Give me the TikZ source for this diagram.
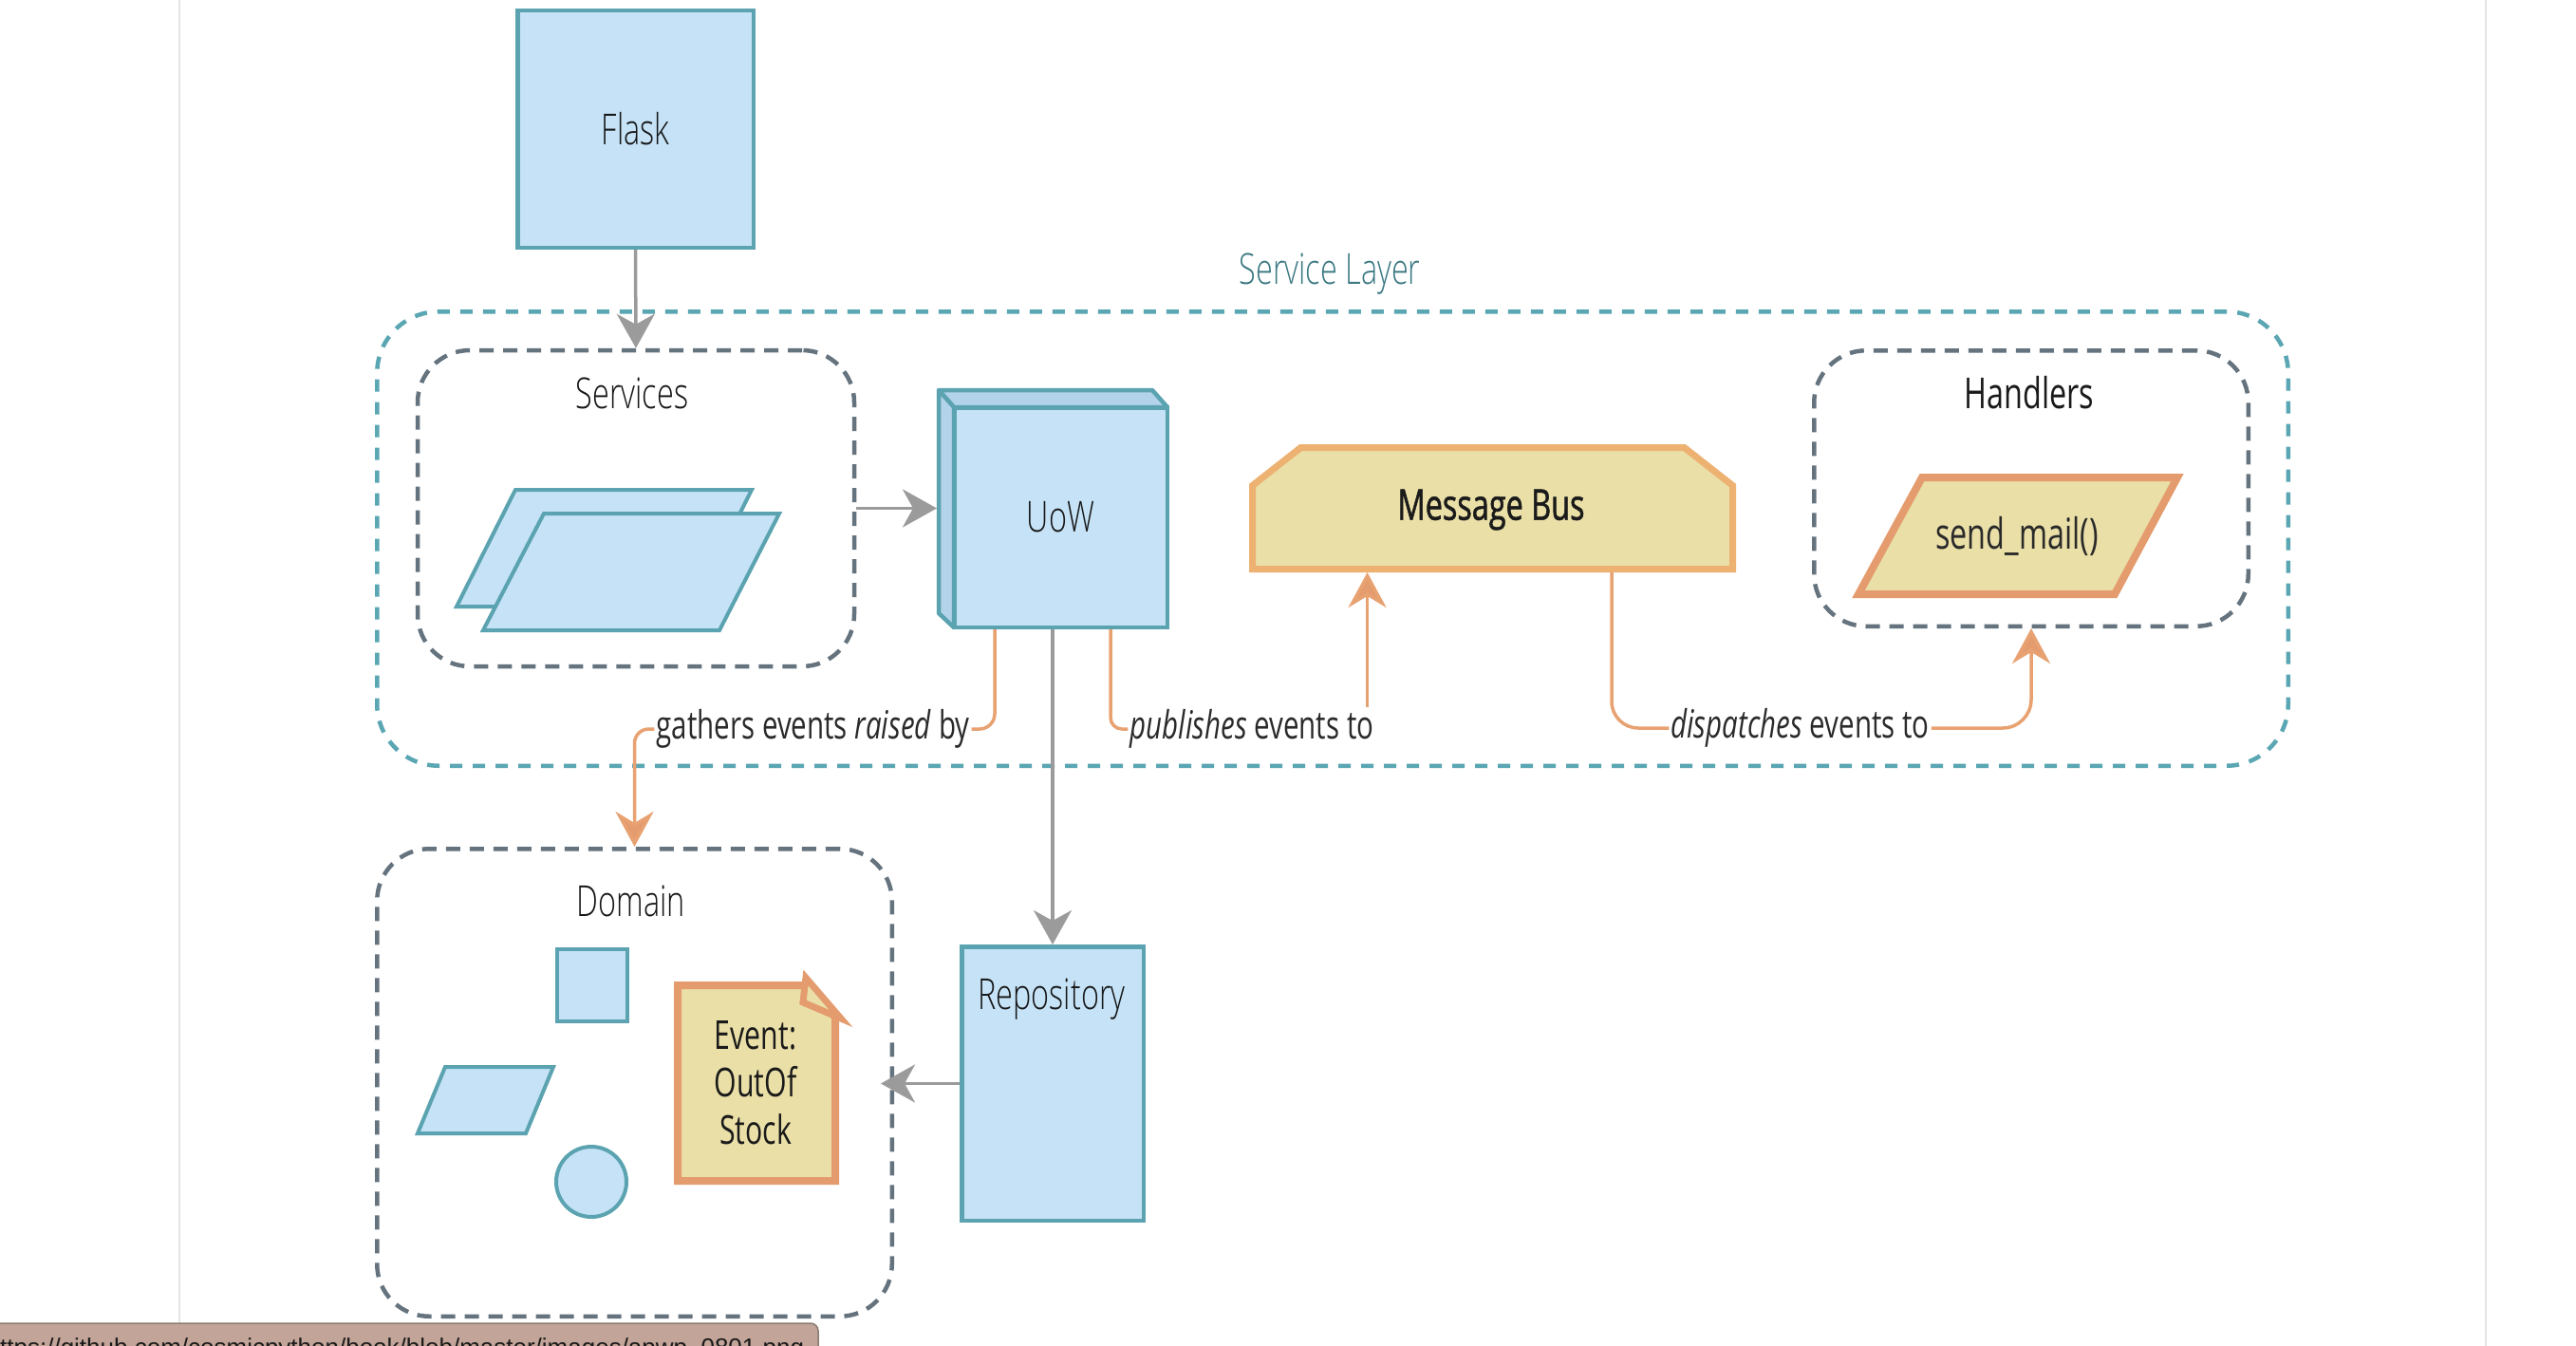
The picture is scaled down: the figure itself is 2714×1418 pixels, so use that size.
\documentclass[tikz,border=0pt]{standalone}
\usepackage{fontspec}
\setmainfont{Open Sans}[FakeStretch=0.72]
\newfontfamily\lightfont{Open Sans Light}[FakeStretch=0.72]
\newfontfamily\semifont{Open Sans}[FakeStretch=0.72, FakeBold=1.2]
\newfontfamily\urlfont{Liberation Sans}
\usetikzlibrary{arrows.meta}
\definecolor{cTeal}{HTML}{5BA3B0}
\definecolor{cFill}{HTML}{C5E2F7}
\definecolor{cFace}{HTML}{B3D3EA}
\definecolor{cTealD}{HTML}{5AA6B3}
\definecolor{cGrayD}{HTML}{65737E}
\definecolor{cArrow}{HTML}{9B9B9B}
\definecolor{cOrL}{HTML}{E8A272}
\definecolor{cOrB}{HTML}{E49C6E}
\definecolor{cMBb}{HTML}{EDB172}
\definecolor{cYel}{HTML}{E9DFA7}
\definecolor{cTxt}{HTML}{2A2A2A}
\definecolor{cLight}{HTML}{161616}
\definecolor{cDark}{HTML}{1A1A1A}
\definecolor{cSL}{HTML}{3A7882}
\definecolor{cUrl}{HTML}{C2A498}
\definecolor{cUrlB}{HTML}{8C7C74}
\definecolor{cPage}{HTML}{E4E4E4}
\newcommand\fsNode{\fontsize{45}{54}\selectfont}
\newcommand\fsLab{\fontsize{41}{49}\selectfont}
\newcommand\fsEv{\fontsize{42}{50}\selectfont}
\tikzset{
  bluebox/.style={draw=cTeal, fill=cFill, line width=4.5pt, inner sep=0pt},
  blueshape/.style={draw=cTeal, fill=cFill, line width=4pt, line join=miter},
  faceshape/.style={draw=cTeal, fill=cFace, line width=4.5pt, line join=round},
  grpT/.style={draw=cTealD, line width=4.5pt, dash pattern=on 13pt off 11pt, rounded corners=65pt, inner sep=0pt},
  grpG/.style={draw=cGrayD, line width=4.5pt, dash pattern=on 15pt off 10pt, rounded corners=55pt, inner sep=0pt},
  garrow/.style={draw=cArrow, line width=3.5pt, -{Stealth[length=36pt,width=40pt,inset=11pt]}},
  oline/.style={draw=cOrL, line width=3.5pt},
  oarrow/.style={draw=cOrL, line width=3.5pt, -{Stealth[length=37pt,width=40pt,inset=12pt,fill=cOrB]}},
  txt/.style={text=cLight, inner sep=0pt, font=\lightfont\fsNode},
  txtR/.style={text=cDark, inner sep=0pt, font=\fsNode},
  lab/.style={text=cTxt, inner sep=2pt, font=\fsLab},
  ghost/.style={inner sep=0pt, outer sep=0pt},
}
\begin{document}
\begin{tikzpicture}[x=1pt,y=-1pt]
\useasboundingbox (0,0) rectangle (2714,1418);
\fill[white] (0,0) rectangle (2714,1418);
% page edges
\draw[cPage, line width=2pt] (189,0) -- (189,1418);
\draw[cPage, line width=2pt] (2619,0) -- (2619,1418);

% groups
\node[grpT, minimum width=2013.5, minimum height=478.5] (sl) at (1404,567.5) {};
\node[txt, text=cSL] (slT) at (1401,289) {Service Layer};
\node[grpG, minimum width=460, minimum height=333] (services) at (670,535.5) {};
\node[txt] (servicesT) at (666,414) {Services};
\node[grpG, minimum width=457.5, minimum height=290.5] (handlers) at (2140,514.5) {};
\node[txtR] (handlersT) at (2138,414) {Handlers};
\node[grpG, minimum width=542.5, minimum height=492.5] (domain) at (668.5,1140.5) {};
\node[txt] (domainT) at (665,949) {Domain};

% Flask
\node[bluebox, txt, minimum width=248.5, minimum height=249.5] (flask) at (669.5,136) {Flask};

% service parallelograms
\draw[blueshape] (543,516) -- (792,516) -- (730,639) -- (481,639) -- cycle;
\draw[blueshape] (573,541) -- (821,541) -- (758,664) -- (509,664) -- cycle;

% UoW 3D box
\draw[faceshape] (989,411) -- (1214,411) -- (1230,429) -- (1005,429) -- cycle;
\draw[faceshape] (989,411) -- (1005,429) -- (1005,661) -- (989,646) -- cycle;
\node[bluebox, txt, minimum width=224.5, minimum height=231.5] (uow) at (1117.5,545) {UoW};

% Message Bus
\draw[draw=cMBb, fill=cYel, line width=7pt, line join=miter]
  (1319.5,511.5) -- (1370.5,471.5) -- (1774.5,471.5) -- (1825.5,511.5) -- (1825.5,599.5) -- (1319.5,599.5) -- cycle;
\node[ghost, minimum width=513, minimum height=135] (mb) at (1572.5,535.5) {};
\node[txtR, font=\semifont\fsNode] (mbT) at (1571,537) {Message Bus};

% send_mail
\draw[draw=cOrB, fill=cYel, line width=8pt, line join=miter]
  (2025,503) -- (2294,503) -- (2228,626) -- (1958,626) -- cycle;
\node[txtR, text=cTxt] (sm) at (2125,565) {send\_mail()};

% Repository
\node[bluebox, minimum width=191.5, minimum height=288.5] (repo) at (1109,1141.5) {};
\node[txt] (repoT) at (1108,1053) {Repository};

% Domain contents
\draw[blueshape] (587,1000) rectangle (661,1076);
\draw[blueshape] (469,1124) -- (583,1124) -- (554,1194) -- (440,1194) -- cycle;
\draw[blueshape] (623,1245) circle[radius=37];
\draw[draw=cOrB, fill=cYel, line width=8pt, line join=miter]
  (714,1038) -- (850,1038) -- (880,1072) -- (880,1244) -- (714,1244) -- cycle;
\draw[draw=cOrB, fill=cYel, line width=7pt, line join=miter]
  (849,1030) -- (886,1073) -- (846,1056) -- cycle;
\node[txtR, font=\fsEv, align=center] (ev) at (796,1141) {Event:\\OutOf\\Stock};

% labels
\node[lab] (gath) at (856.5,768) {gathers events \textit{raised} by};
\node[lab] (pub) at (1319,768) {\textit{publishes} events to};
\node[lab] (disp) at (1896.5,767) {\textit{dispatches} events to};

% gray connectors
\coordinate (uowIn) at ([xshift=-16pt]uow.west);
\draw[garrow] (flask.south) -- (services.north);
\draw[garrow] (services.east) -- (services.east -| uowIn);
\draw[garrow] (repo.north |- uow.south) -- (repo.north);
\draw[garrow] (repo.west) -- ([xshift=-14pt]domain.east |- repo.west);

% orange connectors
\draw[oline, rounded corners=16pt] ([xshift=45pt]uow.south west) |- (gath.east);
\draw[oarrow, rounded corners=15pt] (gath.west) -| (domain.north);
\draw[oline, rounded corners=12pt] ([xshift=167pt]uow.south west) |- (pub.west);
\coordinate (pubUp) at ([xshift=-9pt]pub.north east);
\draw[oarrow] (pubUp) -- (pubUp |- mb.south);
\draw[oline, rounded corners=28pt] ([xshift=125.5pt]mb.south) |- (disp.west);
\draw[oarrow, rounded corners=30pt] (disp.east) -| (handlers.south);

% browser status bar
\draw[fill=cUrl, draw=cUrlB, line width=1.5pt, rounded corners=8pt] (-10,1440) -- (-10,1394) -- (862,1394) -- (862,1440);
\node[anchor=base west, inner sep=0pt, text=cDark, font=\urlfont\fontsize{26}{30}\selectfont] (url) at (-14.5,1428) {https://github.com/cosmicpython/book/blob/master/images/apwp\_0801.png};
\end{tikzpicture}
\end{document}
